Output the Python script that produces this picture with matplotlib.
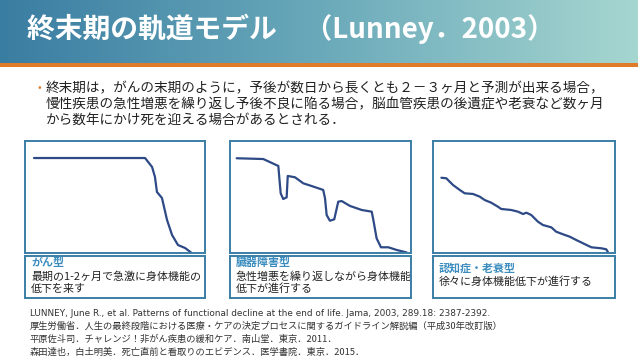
import matplotlib.pyplot as plt
import numpy as np
from matplotlib.colors import LinearSegmentedColormap
from matplotlib.patches import Rectangle

plt.rcParams['font.family'] = ['Noto Sans CJK JP', 'DejaVu Sans']

W, H = 638, 359

title = "終末期の軌道モデル　（Lunney．2003）"
bullet_lines = [
    "終末期は，がんの末期のように，予後が数日から長くとも２－３ヶ月と予測が出来る場合，",
    "慢性疾患の急性増悪を繰り返し予後不良に陥る場合，脳血管疾患の後遺症や老衰など数ヶ月",
    "から数年にかけ死を迎える場合があるとされる．",
]

# trajectory curves (x: time 0-100, y: function 0-100)
cancer_x = [5, 66.7, 70.6, 72.2, 73.3, 76.1, 78.9, 81.7, 85.0, 88.9, 92.2]
cancer_y = [84.8, 84.8, 76.8, 67.9, 54.5, 49.1, 29.5, 16.1, 7.1, 4.5, 0.5]

organ_x = [3.7, 18.4, 26.7, 27.2, 28.0, 29.4, 31.3, 31.9, 35.9, 40.5, 45.1, 51.5,
           52.5, 53.4, 55.2, 57.6, 59.8, 61.7, 66.3, 72.8, 78.3, 79.2, 81.0, 83.4,
           87.5, 92.1, 97.6]
organ_y = [84.6, 83.9, 77.7, 68.1, 53.3, 48.2, 49.7, 68.8, 67.6, 62.2, 59.8, 56.3,
           48.8, 33.9, 28.8, 30.1, 45.8, 46.4, 42.0, 38.4, 36.9, 29.5, 13.1, 5.1,
           5.1, 2.7, 0.5]

frail_x = [4.6, 7.3, 11.0, 14.7, 17.4, 22.0, 25.7, 28.4, 32.0, 35.7, 37.5, 43.0,
           46.7, 49.5, 51.3, 54.0, 57.7, 60.4, 65.0, 67.7, 72.4, 75.1, 78.7, 82.4,
           87.0, 92.5, 95.2, 96.2]
frail_y = [67.2, 66.7, 60.7, 56.3, 53.3, 52.7, 50.3, 47.3, 44.9, 41.3, 39.3, 38.4,
           36.9, 34.8, 36.0, 33.9, 27.9, 25.0, 22.9, 19.0, 16.1, 14.6, 11.6, 8.7,
           5.1, 4.2, 3.3, 0.5]

cap_titles = ["がん型", "臓器障害型", "認知症・老衰型"]
cap_texts = [
    ["最期の1-2ヶ月で急激に身体機能の", "低下を来す"],
    ["急性増悪を繰り返しながら身体機能", "低下が進行する"],
    ["徐々に身体機能低下が進行する"],
]

refs = [
    "LUNNEY, June R., et al. Patterns of functional decline at the end of life. Jama, 2003, 289.18: 2387-2392.",
    "厚生労働省．人生の最終段階における医療・ケアの決定プロセスに関するガイドライン解説編（平成30年改訂版）",
    "平原佐斗司．チャレンジ！非がん疾患の緩和ケア．南山堂．東京．2011．",
    "森田達也，白土明美．死亡直前と看取りのエビデンス．医学書院．東京．2015．",
]

frame_col = "#3b7ea6"
line_col = "#2e4a86"
cap_col = "#3a8cbf"

fig = plt.figure(figsize=(W / 100, H / 100), dpi=100)
bg = fig.add_axes([0, 0, 1, 1])
bg.set_xlim(0, W)
bg.set_ylim(H, 0)
bg.axis("off")

# title bar
cmap = LinearSegmentedColormap.from_list("bar", ["#3a7da2", "#6aa9ba", "#a6d6d0"])
bg.imshow(np.linspace(0, 1, 256)[None, :], cmap=cmap, extent=[0, W, 63, 0], aspect="auto")
bg.add_patch(Rectangle((0, 63), W, 4, color="#e07b2a", lw=0))
bg.text(27, 29, title, color="white", fontsize=20, fontweight="bold", va="center")

# bullet
bg.text(37, 88, "•", color="#e07b2a", fontsize=8, va="center")
for i, s in enumerate(bullet_lines):
    bg.text(46, 88 + i * 16, s, fontsize=9.8, va="center", color="#222222")


def px_axes(x0, y0, x1, y1):
    return fig.add_axes([x0 / W, 1 - y1 / H, (x1 - x0) / W, (y1 - y0) / H])


panels = [(25, 205), (230, 411), (433, 615)]
curves = [(cancer_x, cancer_y), (organ_x, organ_y), (frail_x, frail_y)]

for (x0, x1), (cx, cy), ttl, lines in zip(panels, curves, cap_titles, cap_texts):
    ax = px_axes(x0, 141, x1, 253)
    ax.plot(cx, cy, color=line_col, lw=1.6, solid_capstyle="round")
    ax.set_xlim(0, 100)
    ax.set_ylim(0, 100)
    ax.set_xticks([])
    ax.set_yticks([])
    for sp in ax.spines.values():
        sp.set_color(frame_col)
        sp.set_linewidth(1.4)

    cap = px_axes(x0, 256, x1, 298)
    cap.set_facecolor("none")
    cap.set_xticks([])
    cap.set_yticks([])
    for sp in cap.spines.values():
        sp.set_color(frame_col)
        sp.set_linewidth(1.4)

    tx = x0 + 6
    if len(lines) == 1:
        bg.text(tx, 268, ttl, color=cap_col, fontsize=7.9, fontweight="bold", va="center")
        bg.text(tx, 281, lines[0], fontsize=7.9, va="center", color="#222222")
    else:
        bg.text(tx, 262.5, ttl, color=cap_col, fontsize=7.9, fontweight="bold", va="center")
        for j, s in enumerate(lines):
            bg.text(tx, 276.5 + j * 12, s, fontsize=7.9, va="center", color="#222222")

# references
bg.text(30, 314, refs[0], fontsize=6.4, va="center", color="#333333", family="DejaVu Sans")
for i, s in enumerate(refs[1:], start=1):
    bg.text(30, 314 + i * 12.7, s, fontsize=6.7, va="center", color="#333333")

fig.savefig("out.png", dpi=100)
